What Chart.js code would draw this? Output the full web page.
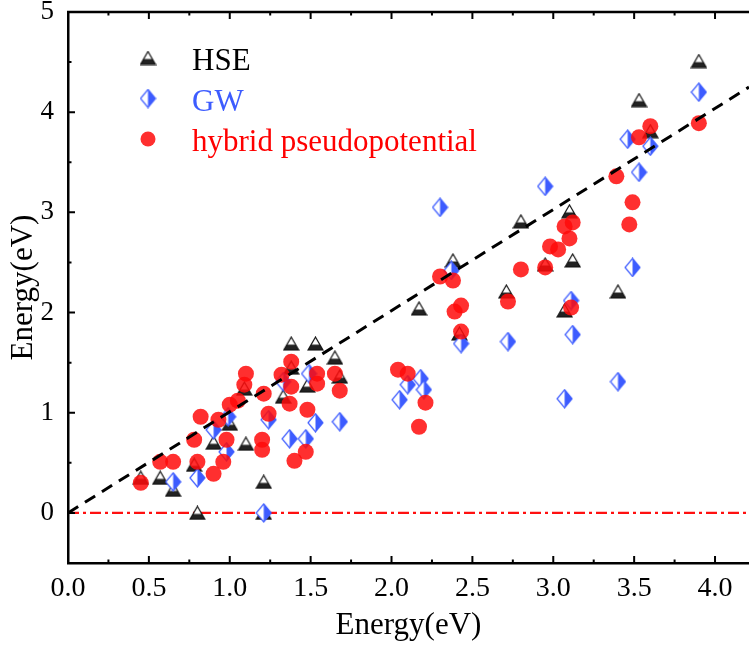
<!DOCTYPE html>
<html>
<head>
<meta charset="utf-8">
<script src="https://cdn.jsdelivr.net/npm/chart.js@4.4.1/dist/chart.umd.min.js"></script>
<style>
  html, body { margin: 0; padding: 0; background: #fff; }
</style>
</head>
<body>
<canvas id="myChart" width="749" height="652"></canvas>
<script>
// values
const hseX = [1.38, 1.53, 1.65, 1.38, 1.48, 1.68, 1.09, 1.33, 1.00, 0.90, 1.10, 0.78, 0.45, 0.57, 0.65, 1.21, 0.80, 1.21,
  2.80, 3.10, 2.38, 2.17, 2.95, 3.12, 2.71, 3.40, 3.07, 2.42, 3.90, 3.53, 3.60];
const hseY = [1.69, 1.69, 1.55, 1.45, 1.27, 1.36, 1.24, 1.16, 0.89, 0.70, 0.69, 0.48, 0.35, 0.35, 0.23, 0.31, 0.00, 0.00,
  2.91, 3.01, 2.52, 2.04, 2.48, 2.52, 2.21, 2.21, 2.02, 1.79, 4.51, 4.12, 3.81];

const gwX = [1.33, 1.49, 0.99, 0.90, 0.98, 1.24, 1.37, 1.47, 1.53, 1.68, 0.65, 0.80, 1.21,
  2.95, 2.30, 3.49, 2.37, 3.11, 2.43, 2.72, 3.12, 2.18, 2.10, 2.20, 2.05, 3.07, 3.40, 3.90, 3.46, 3.60, 3.53];
const gwY = [1.31, 1.39, 0.96, 0.83, 0.61, 0.93, 0.74, 0.74, 0.90, 0.91, 0.31, 0.35, 0.00,
  3.26, 3.05, 2.45, 2.42, 2.12, 1.69, 1.71, 1.78, 1.34, 1.28, 1.23, 1.13, 1.14, 1.31, 4.20, 3.73, 3.66, 3.40];

const hybridX = [1.38, 1.10, 1.09, 1.32, 1.38, 1.54, 1.54, 1.65, 1.68, 1.21, 1.05, 1.00, 0.82, 0.93, 1.24, 1.37, 1.48,
  0.98, 0.78, 1.20, 1.20, 0.96, 0.57, 0.65, 0.80, 0.90, 0.45, 1.40, 1.47,
  3.12, 3.07, 3.10, 2.98, 3.03, 3.49, 3.47, 2.80, 2.95, 2.30, 2.38, 2.43, 2.39, 2.72, 3.11, 2.43,
  2.04, 2.10, 2.21, 2.17, 3.39, 3.60, 3.53, 3.90];
const hybridY = [1.51, 1.39, 1.28, 1.38, 1.26, 1.39, 1.29, 1.39, 1.22, 1.19, 1.12, 1.08, 0.96, 0.93, 0.99, 1.09, 1.03,
  0.73, 0.73, 0.73, 0.63, 0.51, 0.51, 0.51, 0.51, 0.39, 0.30, 0.52, 0.61,
  2.90, 2.86, 2.74, 2.66, 2.63, 3.10, 2.88, 2.43, 2.45, 2.36, 2.32, 2.07, 2.01, 2.11, 2.05, 1.81,
  1.43, 1.39, 1.10, 0.86, 3.36, 3.86, 3.75, 3.89];

const fitX = [0, 4.21];
const fitY = [0, 4.25];
const zeroX = [0, 4.21];
const zeroY = [0, 0];

const seriesNames = ["HSE", "GW", "hybrid pseudopotential"];
const xTicks = [0, 0.5, 1.0, 1.5, 2.0, 2.5, 3.0, 3.5, 4.0];
const yTicks = [0, 1, 2, 3, 4, 5];

const blue = "#3d5cff";
const red = "rgba(255, 10, 10, 0.85)";
const serif = "'Liberation Serif', 'Times New Roman', serif";

Chart.defaults.font.family = serif;
Chart.defaults.color = "#000";

// half filled triangle (bottom part dark)
function makeTriangle() {
  const c = document.createElement("canvas");
  c.width = 17; c.height = 15;
  const g = c.getContext("2d");
  g.beginPath();
  g.moveTo(8.5, 1); g.lineTo(16, 14); g.lineTo(1, 14); g.closePath();
  g.fillStyle = "#fff"; g.fill();
  g.save(); g.clip();
  g.fillStyle = "#222"; g.fillRect(0, 8.5, 17, 7);
  g.restore();
  g.strokeStyle = "#111"; g.lineWidth = 1.2; g.stroke();
  return c;
}

// half filled diamond (right part blue)
function makeDiamond() {
  const c = document.createElement("canvas");
  c.width = 17; c.height = 20;
  const g = c.getContext("2d");
  g.beginPath();
  g.moveTo(8.5, 1); g.lineTo(16, 10); g.lineTo(8.5, 19); g.lineTo(1, 10); g.closePath();
  g.fillStyle = "#fff"; g.fill();
  g.save(); g.clip();
  g.fillStyle = blue; g.fillRect(8.5, 0, 9, 20);
  g.restore();
  g.strokeStyle = blue; g.lineWidth = 1.2; g.stroke();
  return c;
}

const triImg = makeTriangle();
const diaImg = makeDiamond();

function pts(xs, ys) {
  return xs.map((x, i) => ({ x: x, y: ys[i] }));
}

const frame = {
  id: "frame",
  afterDraw(chart) {
    const ctx = chart.ctx;
    const a = chart.chartArea;
    const xs = chart.scales.x, ys = chart.scales.y;
    ctx.save();
    ctx.strokeStyle = "#000";
    ctx.lineWidth = 2.5;
    ctx.beginPath();
    ctx.moveTo(a.left - 1, a.top); ctx.lineTo(a.right, a.top);
    ctx.stroke();
    ctx.lineWidth = 2;
    ctx.beginPath();
    for (let v = 0; v <= 4.2; v += 0.25) {
      const px = xs.getPixelForValue(v);
      const len = Math.abs(v * 2 - Math.round(v * 2)) < 1e-6 ? 7 : 3.5;
      ctx.moveTo(px, a.bottom); ctx.lineTo(px, a.bottom - len);
      ctx.moveTo(px, a.top); ctx.lineTo(px, a.top + len);
    }
    for (let v = 0; v <= 5; v += 0.5) {
      const py = ys.getPixelForValue(v);
      const len = Number.isInteger(v) ? 7 : 3.5;
      ctx.moveTo(a.left, py); ctx.lineTo(a.left + len, py);
    }
    ctx.stroke();
    ctx.restore();
  }
};

const legendBox = {
  id: "legendBox",
  afterDraw(chart) {
    const ctx = chart.ctx;
    const colors = ["#000", blue, "#ff0000"];
    ctx.save();
    ctx.font = "31px " + serif;
    ctx.textBaseline = "alphabetic";
    seriesNames.forEach((name, i) => {
      const y = 58 + i * 40.5;
      if (i === 0) ctx.drawImage(triImg, 148 - triImg.width / 2, y - triImg.height / 2);
      else if (i === 1) ctx.drawImage(diaImg, 148 - diaImg.width / 2, y - diaImg.height / 2);
      else {
        ctx.fillStyle = red;
        ctx.beginPath(); ctx.arc(148, y, 7.5, 0, Math.PI * 2); ctx.fill();
      }
      ctx.fillStyle = colors[i];
      ctx.fillText(name, 192, y + 12);
    });
    ctx.restore();
  }
};

new Chart(document.getElementById("myChart"), {
  type: "scatter",
  data: {
    datasets: [
      {
        label: "fit",
        data: pts(fitX, fitY),
        showLine: true,
        borderColor: "#000",
        borderWidth: 3,
        borderDash: [12, 8],
        pointRadius: 0,
        order: 0,
      },
      {
        label: seriesNames[2],
        data: pts(hybridX, hybridY),
        pointStyle: "circle",
        pointRadius: 8,
        backgroundColor: red,
        borderWidth: 0,
        order: 1,
      },
      {
        label: seriesNames[1],
        data: pts(gwX, gwY),
        pointStyle: diaImg,
        pointRadius: 8,
        order: 2,
      },
      {
        label: seriesNames[0],
        data: pts(hseX, hseY),
        pointStyle: triImg,
        pointRadius: 8,
        order: 3,
      },
      {
        label: "zero",
        data: pts(zeroX, zeroY),
        showLine: true,
        borderColor: "#ff1010",
        borderWidth: 2.2,
        borderDash: [11, 4, 3, 4],
        pointRadius: 0,
        order: 4,
      },
    ],
  },
  options: {
    responsive: false,
    animation: false,
    layout: { autoPadding: false, padding: { top: 12, right: 0, left: 0, bottom: 0 } },
    plugins: { legend: { display: false }, tooltip: { enabled: false } },
    scales: {
      x: {
        type: "linear",
        min: 0,
        max: 4.21,
        afterBuildTicks: (s) => { s.ticks = xTicks.map((v) => ({ value: v })); },
        afterFit: (s) => { s.height = 89; s.paddingLeft = 0; s.paddingRight = 0; },
        ticks: {
          callback: (v) => Number(v).toFixed(1),
          font: { family: serif, size: 28 },
          color: "#000",
          padding: 1,
          maxRotation: 0,
          autoSkip: false,
        },
        grid: { display: false },
        border: { display: true, color: "#000", width: 2.5 },
        title: { display: true, text: "Energy(eV)", font: { family: serif, size: 31 }, color: "#000", padding: { top: 0, bottom: 8 } },
      },
      y: {
        type: "linear",
        min: -0.5,
        max: 5,
        afterBuildTicks: (s) => { s.ticks = yTicks.map((v) => ({ value: v })); },
        afterFit: (s) => { s.width = 68; s.paddingTop = 0; s.paddingBottom = 0; },
        ticks: {
          font: { family: serif, size: 27 },
          color: "#000",
          padding: 6,
        },
        grid: { display: false },
        border: { display: true, color: "#000", width: 2.5 },
        title: { display: true, text: "Energy(eV)", font: { family: serif, size: 31 }, color: "#000", padding: { top: 5, bottom: 0 } },
      },
    },
  },
  plugins: [frame, legendBox],
});
</script>
</body>
</html>
